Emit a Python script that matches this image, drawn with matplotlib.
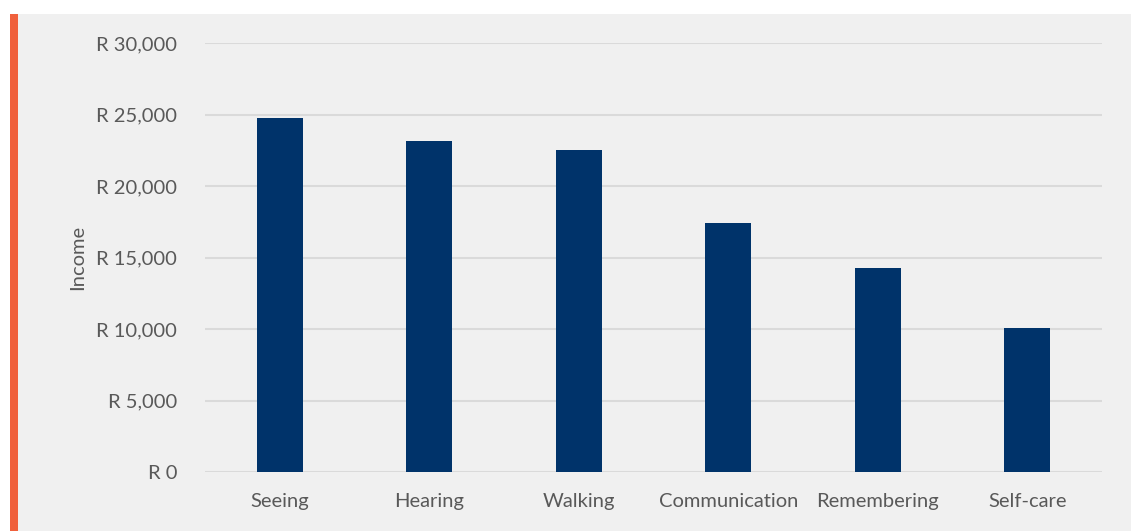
import matplotlib.pyplot as plt
from matplotlib.patches import Rectangle
from matplotlib.ticker import FuncFormatter

categories = ["Seeing", "Hearing", "Walking", "Communication", "Remembering", "Self-care"]
income = [24750, 23150, 22500, 17400, 14270, 10100]
yticks = [0, 5000, 10000, 15000, 20000, 25000, 30000]

plt.rcParams['font.family'] = ['Lato', 'DejaVu Sans']
txt = '#595959'
bg = '#f0f0f0'

fig = plt.figure(figsize=(11.31, 5.31), dpi=100)
fig.patch.set_facecolor('white')
# gray panel and orange accent bar
fig.patches.append(Rectangle((18/1131, 0), 1 - 18/1131, 1 - 14/531, transform=fig.transFigure,
                             facecolor=bg, edgecolor='none', zorder=-2))
fig.patches.append(Rectangle((10/1131, 0), 8/1131, 1 - 14/531, transform=fig.transFigure,
                             facecolor='#f0603c', edgecolor='none', zorder=-1))

ax = fig.add_axes([205/1131, 59/531, 897/1131, 429/531])
ax.set_facecolor(bg)
ax.bar(range(len(categories)), income, width=0.31, color='#00336a', zorder=3)
ax.set_xlim(-0.5, len(categories) - 0.5)
ax.set_ylim(0, 30000)
ax.set_yticks(yticks)
ax.yaxis.set_major_formatter(FuncFormatter(lambda v, p: "R {:,.0f}".format(v)))
ax.set_xticks(range(len(categories)))
ax.set_xticklabels(categories)
ax.grid(axis='y', color='#dadada', linewidth=1.5, zorder=0)
for s in ax.spines.values():
    s.set_visible(False)
ax.tick_params(length=0, labelsize=14.5, colors=txt)
ax.tick_params(axis='y', pad=20)
ax.tick_params(axis='x', pad=15)
ax.set_ylabel("Income", fontsize=14.5, color=txt, labelpad=7)

fig.savefig("out.png", dpi=100)
